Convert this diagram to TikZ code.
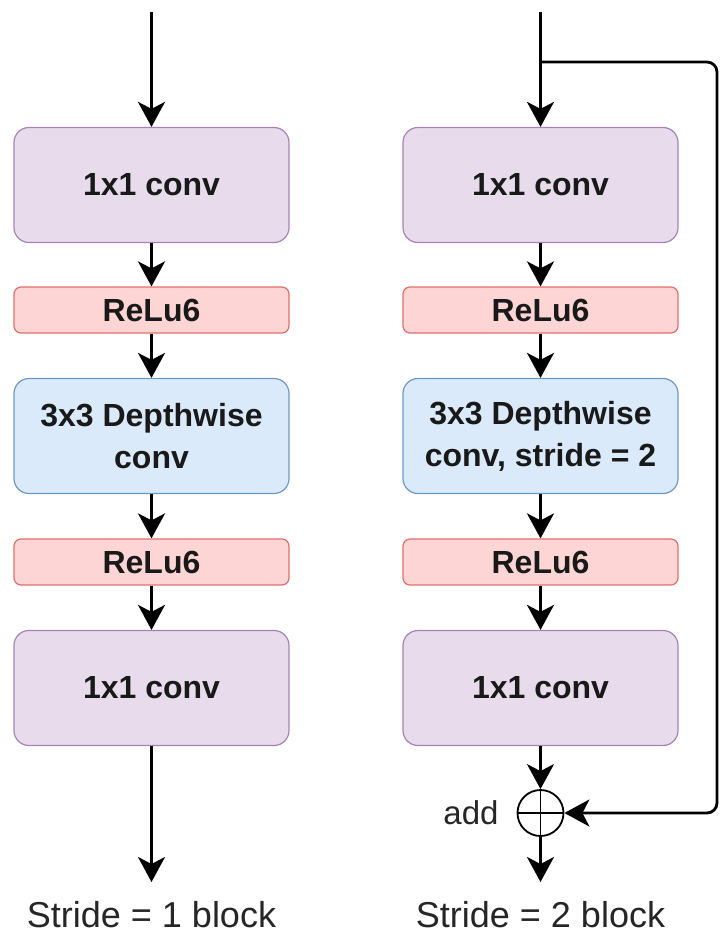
\documentclass[tikz,border=0pt]{standalone}
\usepackage{fontspec}
\setmainfont{Liberation Sans}
\usetikzlibrary{arrows.meta,calc}

\definecolor{convfill}{HTML}{E8DCEC}
\definecolor{convline}{HTML}{A783B5}
\definecolor{relufill}{HTML}{FDD5D4}
\definecolor{reluline}{HTML}{E0706C}
\definecolor{dwfill}{HTML}{DBEAFA}
\definecolor{dwline}{HTML}{6E98C8}

\tikzset{
  blockbase/.style={rectangle, inner sep=0pt, minimum width=275pt, line width=1.2pt,
    align=center, text=black!90, font=\fontsize{32}{42}\selectfont\bfseries},
  convbox/.style={blockbase, fill=convfill, draw=convline, minimum height=115pt, rounded corners=15pt},
  dwbox/.style={blockbase, fill=dwfill, draw=dwline, minimum height=115pt, rounded corners=15pt},
  relubox/.style={blockbase, fill=relufill, draw=reluline, minimum height=46pt, rounded corners=7pt},
  flow/.style={line width=2.8pt, -{Stealth[length=25pt,width=27pt,inset=7pt]}},
  caption/.style={font=\fontsize{36}{40}\selectfont, text=black!85},
  addnode/.style={circle, draw, line width=1.8pt, minimum size=46pt, inner sep=0pt}
}

\begin{document}
\begin{tikzpicture}[x=1pt,y=-1pt]
\useasboundingbox (0,0) rectangle (723,935);

% stride 1 block
\coordinate (lin) at (151.5,12);
\node[convbox] (l1) at (151.5,185) {1x1 conv};
\node[relubox] (lr1) at (151.5,310) {ReLu6};
\node[dwbox]   (ld) at (151.5,436) {3x3 Depthwise\\conv};
\node[relubox] (lr2) at (151.5,562) {ReLu6};
\node[convbox] (l3) at (151.5,688) {1x1 conv};
\coordinate (lout) at (151.5,882);
\node[caption] (lcap) at (151.5,915) {Stride = 1 block};

\draw[flow] (lin) -- (l1);
\draw[flow] (l1) -- (lr1);
\draw[flow] (lr1) -- (ld);
\draw[flow] (ld) -- (lr2);
\draw[flow] (lr2) -- (l3);
\draw[flow] (l3) -- (lout);

% stride 2 block
\coordinate (rin) at (540.5,12);
\coordinate (rsplit) at (540.5,62);
\node[convbox] (r1) at (540.5,185) {1x1 conv};
\node[relubox] (rr1) at (540.5,310) {ReLu6};
\node[dwbox]   (rd) at (540.5,436) {3x3 Depthwise\\conv, stride = 2};
\node[relubox] (rr2) at (540.5,562) {ReLu6};
\node[convbox] (r3) at (540.5,688) {1x1 conv};
\node[addnode] (add) at (540.5,813) {};
\draw[line width=1.8pt] (add.north) -- (add.south) (add.west) -- (add.east);
\node[caption, font=\fontsize{33}{36}\selectfont, anchor=east] (addlbl) at (502,813) {add};
\coordinate (rout) at (540.5,882);
\node[caption] (rcap) at (540.5,915) {Stride = 2 block};

\draw[flow] (rin) -- (r1);
\draw[flow] (r1) -- (rr1);
\draw[flow] (rr1) -- (rd);
\draw[flow] (rd) -- (rr2);
\draw[flow] (rr2) -- (r3);
\draw[flow] (r3) -- (add);
\draw[flow] (add) -- (rout);
\draw[flow, rounded corners=10pt] (rsplit) -- (717,62) |- (add.east);

\end{tikzpicture}
\end{document}
